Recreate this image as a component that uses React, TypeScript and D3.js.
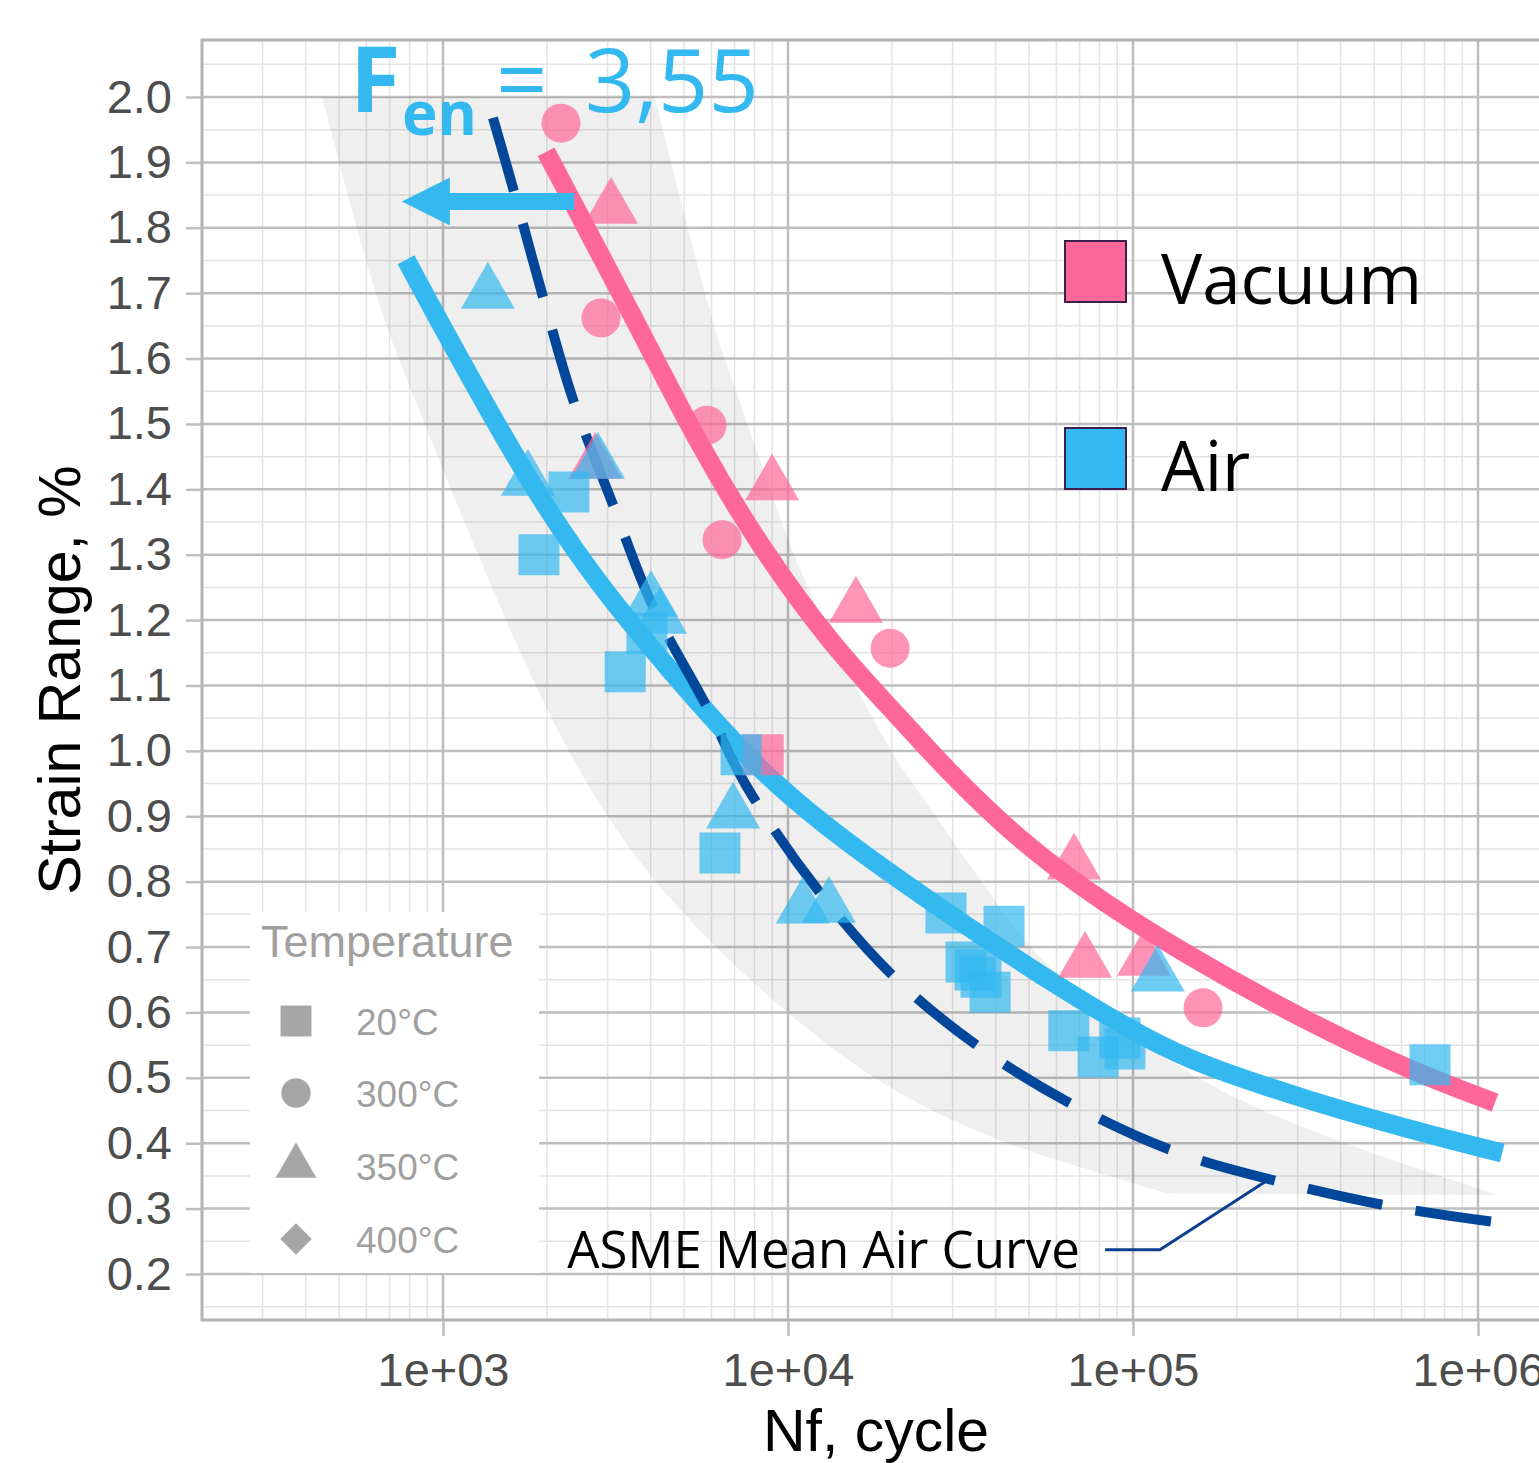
import React, { useEffect, useRef } from "react";
import * as d3 from "d3";

const WIDTH = 1539;
const HEIGHT = 1463;

// fatigue tests in vacuum: cycles to failure, strain range (%), temperature (C)
const VACUUM_N = [2198, 3069, 2871, 5823, 2761, 8995, 6442, 15740, 19770, 8474, 67450, 72600, 107600, 159600];
const VACUUM_STRAIN = [1.96, 1.83, 1.662, 1.498, 1.44, 1.407, 1.323, 1.22, 1.157, 0.994, 0.827, 0.677, 0.68, 0.607];
const VACUUM_TEMP = [300, 350, 300, 300, 350, 350, 300, 350, 300, 20, 350, 350, 350, 300];

// fatigue tests in air
const AIR_N = [1349, 1763, 2317, 1897, 2813, 4008, 4256, 3899, 3374, 7311, 6934, 6350, 11040, 13140, 28700, 42280, 32810, 34830, 36250, 38530, 65160, 79230, 91700, 94800, 118000, 726000];
const AIR_STRAIN = [1.7, 1.414, 1.396, 1.3, 1.44, 1.229, 1.203, 1.18, 1.121, 0.994, 0.905, 0.844, 0.76, 0.761, 0.752, 0.732, 0.677, 0.665, 0.654, 0.631, 0.572, 0.532, 0.561, 0.544, 0.656, 0.52];
const AIR_TEMP = [350, 350, 20, 20, 350, 350, 350, 20, 20, 20, 350, 20, 350, 350, 20, 20, 20, 20, 20, 20, 20, 20, 20, 20, 350, 20];

// fitted curves
const VACUUM_FIT_N = [1990, 3726, 5556, 8295, 13490, 21130, 28910, 44900, 70200, 136800, 323900, 644000, 1120000];
const VACUUM_FIT_S = [1.916, 1.644, 1.465, 1.312, 1.159, 1.05, 0.97, 0.872, 0.792, 0.693, 0.584, 0.51, 0.462];
const AIR_FIT_N = [782, 1014, 1824, 2853, 4460, 8295, 14820, 28910, 56400, 109900, 162800, 323900, 644000, 1175000];
const AIR_FIT_S = [1.751, 1.64, 1.399, 1.251, 1.128, 0.966, 0.859, 0.752, 0.65, 0.558, 0.517, 0.465, 0.42, 0.385];
const ASME_N = [1396, 1607, 1950, 2383, 3112, 4064, 5823, 7601, 12380, 20700, 36730, 69600, 135800, 276000, 564000, 1100000];
const ASME_S = [1.968, 1.855, 1.694, 1.537, 1.376, 1.22, 1.067, 0.945, 0.783, 0.65, 0.543, 0.454, 0.385, 0.339, 0.303, 0.28];

// grey scatter band (lower / upper boundary)
const BAND_LOW_N = [446, 635, 787, 1343, 2443, 4864, 16180, 41100, 69600, 126000];
const BAND_LOW_S = [2.0, 1.69, 1.567, 1.261, 0.956, 0.742, 0.497, 0.401, 0.364, 0.323];
const BAND_HIGH_N = [4111, 6065, 6934, 9298, 12130, 19360, 22580, 36040, 49350, 70200, 142600, 323900, 1140000];
const BAND_HIGH_S = [2.0, 1.644, 1.567, 1.364, 1.211, 1.006, 0.956, 0.803, 0.7, 0.624, 0.502, 0.416, 0.321];

const X_MAJOR = [1e3, 1e4, 1e5, 1e6];
const Y_TICKS = d3.range(2, 21).map((i) => i / 10);
const TEMPERATURES = [20, 300, 350, 400];
const TEMP_LABELS = ["20°C", "300°C", "350°C", "400°C"];
const ENVIRONMENTS = ["Vacuum", "Air"];

const PINK = "#ff6699";
const BLUE = "#33b8f0";
const NAVY = "#03479a";

const PANEL = { left: 202, top: 40, right: 1600, bottom: 1320 };

function symbolPath(temp: number, scale: number) {
	if (temp === 20) return d3.symbol(d3.symbolSquare, 1681 * scale)();
	if (temp === 300) return d3.symbol(d3.symbolCircle, 1195 * scale)();
	if (temp === 350) return d3.symbol(d3.symbolTriangle, 1265 * scale)();
	return d3.symbol(d3.symbolSquare, 900 * scale)();
}

export default function App() {
	const ref = useRef<SVGSVGElement>(null);

	useEffect(() => {
		const svg = d3.select(ref.current);
		svg.selectAll("*").remove();

		const x = d3.scaleLog().domain([1e3, 1e6]).range([443, 1478]);
		const y = d3.scaleLinear().domain([0.2, 2.0]).range([1274, 97]);

		svg.append("defs")
			.append("clipPath")
			.attr("id", "panel-clip")
			.append("rect")
			.attr("x", PANEL.left)
			.attr("y", PANEL.top)
			.attr("width", PANEL.right - PANEL.left)
			.attr("height", PANEL.bottom - PANEL.top);

		const panel = svg.append("g").attr("clip-path", "url(#panel-clip)");

		// minor grid
		const xMinor: number[] = [];
		for (let e = 2; e <= 6; e++) {
			for (let k = 2; k <= 9; k++) xMinor.push(k * Math.pow(10, e));
		}
		const yMinor = d3.range(1, 21).map((i) => i / 10 + 0.05);
		panel.selectAll(".xminor").data(xMinor).enter().append("line")
			.attr("x1", (d) => x(d)).attr("x2", (d) => x(d))
			.attr("y1", PANEL.top).attr("y2", PANEL.bottom)
			.attr("stroke", "#e4e4e4").attr("stroke-width", 1.5);
		panel.selectAll(".yminor").data(yMinor).enter().append("line")
			.attr("x1", PANEL.left).attr("x2", PANEL.right)
			.attr("y1", (d) => y(d)).attr("y2", (d) => y(d))
			.attr("stroke", "#e4e4e4").attr("stroke-width", 1.5);

		// major grid
		panel.selectAll(".xmajor").data(X_MAJOR).enter().append("line")
			.attr("x1", (d) => x(d)).attr("x2", (d) => x(d))
			.attr("y1", PANEL.top).attr("y2", PANEL.bottom)
			.attr("stroke", "#bebebe").attr("stroke-width", 2.5);
		panel.selectAll(".ymajor").data(Y_TICKS).enter().append("line")
			.attr("x1", PANEL.left).attr("x2", PANEL.right)
			.attr("y1", (d) => y(d)).attr("y2", (d) => y(d))
			.attr("stroke", "#bebebe").attr("stroke-width", 2.5);

		// scatter band
		const bandLine = d3.line<[number, number]>()
			.x((d) => x(d[0]))
			.y((d) => y(d[1]))
			.curve(d3.curveBasis);
		const low = BAND_LOW_N.map((n, i) => [n, BAND_LOW_S[i]] as [number, number]);
		const high = BAND_HIGH_N.map((n, i) => [n, BAND_HIGH_S[i]] as [number, number]).reverse();
		const bandPath = (bandLine(low) as string) + (bandLine(high) as string).replace(/^M/, "L") + "Z";
		panel.append("path").attr("d", bandPath).attr("fill", "#000").attr("fill-opacity", 0.063);

		// fitted curves
		const fitLine = d3.line<[number, number]>()
			.x((d) => x(d[0]))
			.y((d) => y(d[1]))
			.curve(d3.curveBasis);
		const dashLine = fitLine.curve(d3.curveCatmullRom);
		const toPts = (ns: number[], ss: number[]) => ns.map((n, i) => [n, ss[i]] as [number, number]);
		const smooth = d3.line<[number, number]>().x((d) => x(d[0])).y((d) => y(d[1])).curve(d3.curveBasis);
		panel.append("path")
			.attr("d", smooth(toPts(VACUUM_FIT_N, VACUUM_FIT_S)))
			.attr("fill", "none").attr("stroke", PINK).attr("stroke-width", 19);
		panel.append("path")
			.attr("d", smooth(toPts(AIR_FIT_N, AIR_FIT_S)))
			.attr("fill", "none").attr("stroke", BLUE).attr("stroke-width", 19);
		panel.append("path")
			.attr("d", dashLine(toPts(ASME_N, ASME_S)))
			.attr("fill", "none").attr("stroke", NAVY).attr("stroke-width", 10)
			.attr("stroke-dasharray", "76 34");

		// test points
		const drawPoints = (ns: number[], ss: number[], ts: number[], color: string) => {
			panel.append("g").selectAll("path")
				.data(ns.map((n, i) => ({ n, s: ss[i], t: ts[i] })))
				.enter().append("path")
				.attr("d", (d) => symbolPath(d.t, 1))
				.attr("transform", (d) => `translate(${x(d.n)},${y(d.s)})${d.t === 400 ? " rotate(45)" : ""}`)
				.attr("fill", color)
				.attr("fill-opacity", 0.7);
		};
		drawPoints(VACUUM_N, VACUUM_STRAIN, VACUUM_TEMP, PINK);
		drawPoints(AIR_N, AIR_STRAIN, AIR_TEMP, BLUE);

		// panel border
		svg.append("rect")
			.attr("x", PANEL.left).attr("y", PANEL.top)
			.attr("width", PANEL.right - PANEL.left).attr("height", PANEL.bottom - PANEL.top)
			.attr("fill", "none").attr("stroke", "#b3b3b3").attr("stroke-width", 3);

		// axes
		const xAxis = d3.axisBottom(x)
			.tickValues(X_MAJOR)
			.tickSize(16)
			.tickPadding(17)
			.tickFormat((d) => `1e+0${Math.round(Math.log10(+d))}`);
		const gx = svg.append("g").attr("transform", `translate(0,${PANEL.bottom})`).call(xAxis);
		const yAxis = d3.axisLeft(y)
			.tickValues(Y_TICKS)
			.tickSize(16)
			.tickPadding(14)
			.tickFormat(d3.format(".1f"));
		const gy = svg.append("g").attr("transform", `translate(${PANEL.left},0)`).call(yAxis);
		[gx, gy].forEach((g) => {
			g.select(".domain").remove();
			g.selectAll(".tick line").attr("stroke", "#bebebe").attr("stroke-width", 2.5);
			g.selectAll(".tick text")
				.attr("fill", "#4d4d4d")
				.style("font-family", "'Liberation Sans', Arial, sans-serif")
				.style("font-size", "47px");
		});

		svg.append("text")
			.attr("x", 876).attr("y", 1451)
			.attr("text-anchor", "middle")
			.style("font-family", "'Liberation Sans', Arial, sans-serif")
			.style("font-size", "59px")
			.text("Nf, cycle");
		svg.append("text")
			.attr("transform", "translate(80,680) rotate(-90)")
			.attr("text-anchor", "middle")
			.style("font-family", "'Liberation Sans', Arial, sans-serif")
			.style("font-size", "59px")
			.text("Strain Range, %");

		// temperature legend
		const tl = svg.append("g");
		tl.append("rect").attr("x", 250).attr("y", 912).attr("width", 289).attr("height", 361).attr("fill", "#fff");
		tl.append("text")
			.attr("x", 261).attr("y", 957)
			.attr("fill", "#a0a0a0")
			.style("font-family", "'Liberation Sans', Arial, sans-serif")
			.style("font-size", "45px")
			.text("Temperature");
		const rowY = [1021, 1093, 1166, 1239];
		TEMPERATURES.forEach((t, i) => {
			tl.append("path")
				.attr("d", symbolPath(t, t === 400 ? 0.55 : 0.57))
				.attr("transform", `translate(296,${rowY[i]})${t === 400 ? " rotate(45)" : ""}`)
				.attr("fill", "#a6a6a6");
			tl.append("text")
				.attr("x", 356).attr("y", rowY[i] + 14)
				.attr("fill", "#a0a0a0")
				.style("font-family", "'Liberation Sans', Arial, sans-serif")
				.style("font-size", "37px")
				.text(TEMP_LABELS[i]);
		});

		// environment legend
		const envColors = [PINK, BLUE];
		const envY = [241, 428];
		ENVIRONMENTS.forEach((name, i) => {
			svg.append("rect")
				.attr("x", 1065).attr("y", envY[i]).attr("width", 61).attr("height", 61)
				.attr("fill", envColors[i]).attr("stroke", "#3b1f4e").attr("stroke-width", 2);
			svg.append("text")
				.attr("x", 1161).attr("y", envY[i] + 63)
				.style("font-family", "'Open Sans', 'Noto Sans', sans-serif")
				.style("font-size", "69px")
				.text(name);
		});

		// ASME annotation
		svg.append("text")
			.attr("x", x(70200)).attr("y", y(0.2095))
			.attr("text-anchor", "end")
			.style("font-family", "'Open Sans', 'Noto Sans', sans-serif")
			.style("font-size", "51px")
			.text("ASME Mean Air Curve");
		svg.append("path")
			.attr("d", `M${x(83000)},${y(0.237)}L${x(119700)},${y(0.237)}L${x(241500)},${y(0.341)}`)
			.attr("fill", "none").attr("stroke", "#0d3f8f").attr("stroke-width", 3);

		// Fen arrow
		const ax0 = x(2400), ax1 = x(760), ay = y(1.84);
		svg.append("path")
			.attr("d", `M${ax0},${ay - 8.5}L${ax1 + 48},${ay - 8.5}L${ax1 + 48},${ay - 24}L${ax1},${ay}L${ax1 + 48},${ay + 24}L${ax1 + 48},${ay + 8.5}L${ax0},${ay + 8.5}Z`)
			.attr("fill", BLUE);

		const title = svg.append("g")
			.attr("fill", BLUE)
			.style("font-family", "'Open Sans', 'Noto Sans', sans-serif");
		title.append("text").attr("x", 350).attr("y", 112).style("font-size", "92px").style("font-weight", "bold").text("F");
		title.append("text").attr("x", 402).attr("y", 135).style("font-size", "60px").style("font-weight", "bold").text("en");
		title.append("text").attr("x", 496).attr("y", 112).style("font-size", "90px").text("=");
		title.append("text").attr("x", 585).attr("y", 112).style("font-size", "88px").text("3,55");
	}, []);

	return (
		<svg
			ref={ref}
			width={WIDTH}
			height={HEIGHT}
			style={{ position: "absolute", left: 0, top: 0, background: "#fff" }}
		/>
	);
}
